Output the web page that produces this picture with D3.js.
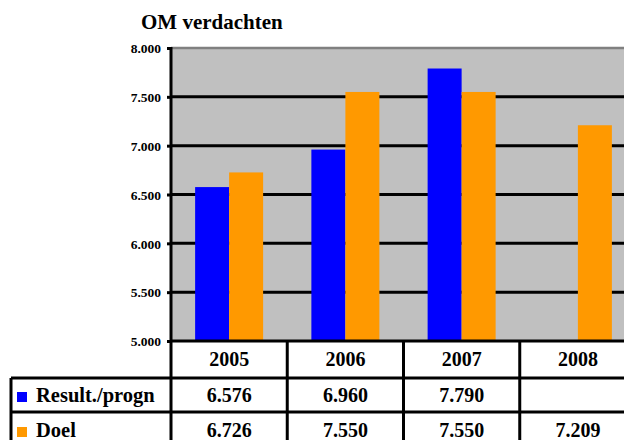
<!DOCTYPE html>
<html>
<head>
<meta charset="utf-8">
<script src="https://cdn.jsdelivr.net/npm/d3@7"></script>
<style>
  html, body { margin: 0; padding: 0; background: #fff; overflow: hidden; }
  svg { display: block; }
  svg text { font-family: "Liberation Serif", "DejaVu Serif", serif !important; font-weight: bold; fill: #000; }
</style>
</head>
<body>
<script>
const title = "OM verdachten";
const categories = ["2005", "2006", "2007", "2008"];
const seriesNames = ["Result./progn", "Doel"];
const resultValues = [6576, 6960, 7790, null];
const doelValues = [6726, 7550, 7550, 7209];
const resultLabels = ["6.576", "6.960", "7.790", ""];
const doelLabels = ["6.726", "7.550", "7.550", "7.209"];
const yTicks = [5000, 5500, 6000, 6500, 7000, 7500, 8000];
const colors = ["#0000FF", "#FF9900"];

const W = 624, H = 440;
const FONT = "'Liberation Serif', 'DejaVu Serif', serif";
const svg = d3.select("body").append("svg").attr("width", W).attr("height", H);

const plotLeft = 171, plotRight = 636, plotTop = 48, plotBottom = 341;

const y = d3.scaleLinear().domain([5000, 8000]).range([plotBottom, plotTop]);
const x = d3.scaleBand().domain(categories).range([plotLeft, plotRight])
  .paddingInner(0.415).paddingOuter(0.2075);
const xs = d3.scaleBand().domain(seriesNames).range([0, x.bandwidth()]);
const step = x.step();

// background
svg.append("rect").attr("x", plotLeft).attr("y", plotTop)
  .attr("width", plotRight - plotLeft).attr("height", plotBottom - plotTop)
  .attr("fill", "#C0C0C0");
// top border
svg.append("line").attr("x1", plotLeft).attr("x2", plotRight)
  .attr("y1", plotTop).attr("y2", plotTop)
  .attr("stroke", "#808080").attr("stroke-width", 2.5);

// gridlines
svg.append("g").selectAll("line").data(yTicks.filter(t => t > 5000 && t < 8000)).join("line")
  .attr("x1", plotLeft).attr("x2", plotRight)
  .attr("y1", d => y(d)).attr("y2", d => y(d))
  .attr("stroke", "#000").attr("stroke-width", 3);

// bars
const series = [resultValues, doelValues];
series.forEach((vals, si) => {
  svg.append("g").selectAll("rect")
    .data(categories.map((c, i) => ({c, v: vals[i]})).filter(d => d.v != null))
    .join("rect")
    .attr("x", d => x(d.c) + xs(seriesNames[si]))
    .attr("width", xs.bandwidth())
    .attr("y", d => y(d.v))
    .attr("height", d => plotBottom - y(d.v))
    .attr("fill", colors[si]);
});

// y axis
const yAxis = d3.axisLeft(y).tickValues(yTicks).tickSize(4)
  .tickFormat(d => d3.format(",")(d).replace(",", "."));
const gy = svg.append("g").attr("transform", `translate(${plotLeft},0)`).call(yAxis)
  .attr("font-family", null).attr("font-size", null);
gy.select(".domain").remove();
gy.selectAll(".tick line").attr("stroke", "#000").attr("stroke-width", 3);
gy.selectAll(".tick text").attr("x", -10).attr("dy", "0.35em")
  .style("font-size", "13.5px").style("font-family", FONT).style("font-weight", "bold");
svg.append("line").attr("x1", plotLeft).attr("x2", plotLeft)
  .attr("y1", plotTop - 1).attr("y2", H)
  .attr("stroke", "#000").attr("stroke-width", 3);

// title
svg.append("text").attr("x", 141).attr("y", 29)
  .style("font-family", FONT).style("font-size", "21px").text(title);

// data table
const rowTop = [341, 378, 412, 447];
const tableLeft = 11;
const lines = svg.append("g").attr("stroke", "#000").attr("stroke-width", 3);
lines.append("line").attr("x1", plotLeft).attr("x2", W).attr("y1", rowTop[0]).attr("y2", rowTop[0]);
lines.append("line").attr("x1", tableLeft).attr("x2", W).attr("y1", rowTop[1]).attr("y2", rowTop[1]);
lines.append("line").attr("x1", tableLeft).attr("x2", W).attr("y1", rowTop[2]).attr("y2", rowTop[2]);
lines.append("line").attr("x1", tableLeft).attr("x2", tableLeft).attr("y1", rowTop[1]).attr("y2", H);
categories.forEach((c, i) => {
  const xr = plotLeft + step * (i + 1);
  lines.append("line").attr("x1", xr).attr("x2", xr).attr("y1", rowTop[0]).attr("y2", H);
});

const center = c => x(c) + x.bandwidth() / 2;
const cellText = (yy, fn) => svg.append("g").selectAll("text").data(categories).join("text")
  .attr("x", center).attr("y", yy).attr("text-anchor", "middle")
  .style("font-family", FONT).style("font-size", "20px").text(fn);
cellText(366, d => d);
cellText(402, (d, i) => resultLabels[i]);
cellText(437, (d, i) => doelLabels[i]);

// legend keys
[402, 437].forEach((by, si) => {
  svg.append("rect").attr("x", 17).attr("y", by - 10).attr("width", 10).attr("height", 10)
    .attr("fill", colors[si]);
  svg.append("text").attr("x", 36).attr("y", by)
    .style("font-family", FONT).style("font-size", "20.5px").text(seriesNames[si]);
});
</script>
</body>
</html>
